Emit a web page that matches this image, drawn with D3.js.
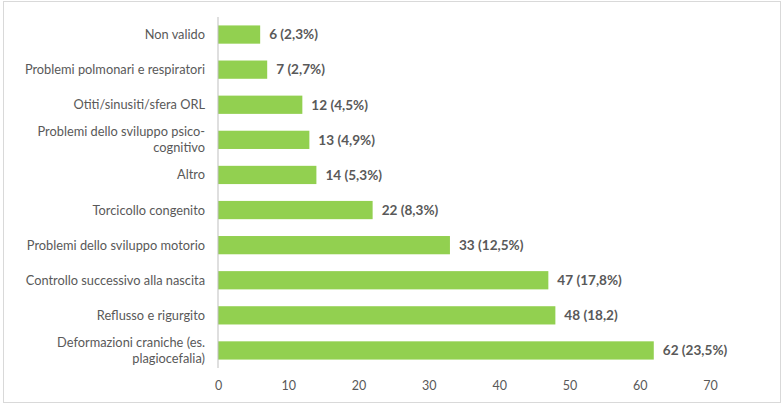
<!DOCTYPE html>
<html><head><meta charset="utf-8">
<script src="https://cdn.jsdelivr.net/npm/d3@7/dist/d3.min.js"></script>
<style>body{margin:0;background:#fff}svg{display:block}</style>
</head><body><svg id="c" width="783" height="405"></svg>
<script>
const categories = [
  ["Non valido"],
  ["Problemi polmonari e respiratori"],
  ["Otiti/sinusiti/sfera ORL"],
  ["Problemi dello sviluppo psico-", "cognitivo"],
  ["Altro"],
  ["Torcicollo congenito"],
  ["Problemi dello sviluppo motorio"],
  ["Controllo successivo alla nascita"],
  ["Reflusso e rigurgito"],
  ["Deformazioni craniche (es.", "plagiocefalia)"]
];
const values = [6, 7, 12, 13, 14, 22, 33, 47, 48, 62];
const valueLabels = ["6 (2,3%)", "7 (2,7%)", "12 (4,5%)", "13 (4,9%)", "14 (5,3%)", "22 (8,3%)", "33 (12,5%)", "47 (17,8%)", "48 (18,2)", "62 (23,5%)"];
const ticks = [0, 10, 20, 30, 40, 50, 60, 70];

const svg = d3.select("#c");
svg.append("rect").attr("x", 3.5).attr("y", 1.5).attr("width", 777).attr("height", 401)
  .attr("fill", "#fff").attr("stroke", "#d9d9d9");

const x = d3.scaleLinear().domain([0, 70]).range([218, 710]);
const idx = d3.range(categories.length);
const y = d3.scaleBand().domain(idx).range([17, 368]).paddingInner(0.48).paddingOuter(0.24);

const font = "Lato, 'Open Sans', sans-serif";
const gray = "#595959";

svg.append("g").selectAll("rect").data(idx).join("rect")
  .attr("x", x(0)).attr("y", i => y(i))
  .attr("width", i => x(values[i]) - x(0)).attr("height", y.bandwidth())
  .attr("fill", "#92D050");

svg.append("line").attr("x1", x(0)).attr("x2", x(0)).attr("y1", 17).attr("y2", 368)
  .attr("stroke", "#bfbfbf").attr("stroke-width", 1);

const xa = d3.axisBottom(x).tickValues(ticks).tickSize(0).tickPadding(0);
const gx = svg.append("g").attr("transform", "translate(0,381)").call(xa);
gx.select(".domain").remove();
gx.selectAll("text").attr("font-family", font).attr("font-size", 12.5).attr("fill", gray).attr("dy", "0.71em");

const gl = svg.append("g");
idx.forEach(i => {
  const lines = categories[i];
  const cy = y(i) + y.bandwidth() / 2;
  const lh = 16;
  const t = gl.append("text").attr("text-anchor", "end").attr("font-family", font)
    .attr("font-size", 12.8).attr("fill", gray);
  lines.forEach((l, k) => {
    t.append("tspan").attr("x", 205).attr("y", cy + (k - (lines.length - 1) / 2) * lh).attr("dy", "0.35em").text(l);
  });
});

svg.append("g").selectAll("text").data(idx).join("text")
  .attr("x", i => x(values[i]) + 9).attr("y", i => y(i) + y.bandwidth() / 2).attr("dy", "0.35em")
  .attr("font-family", font).attr("font-size", 13.6).attr("font-weight", "bold").attr("fill", gray)
  .text(i => valueLabels[i]);
</script></body></html>
